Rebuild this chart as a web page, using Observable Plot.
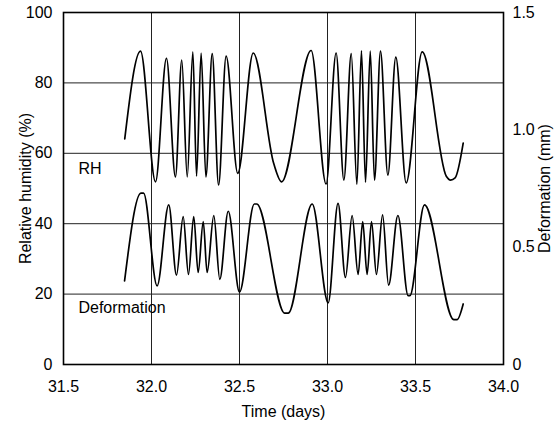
<!DOCTYPE html>
<html><head><meta charset="utf-8">
<script src="https://cdn.jsdelivr.net/npm/d3@7"></script>
<script src="https://cdn.jsdelivr.net/npm/@observablehq/plot@0.6"></script>
<style>body{margin:0;background:#fff}</style>
</head><body><div id="chart"></div>
<script>
// Relative humidity (%) (extrema and a few shape points)
const rhTime = [31.848, 31.9375, 32.023, 32.085, 32.136, 32.172, 32.203, 32.235, 32.256, 32.282, 32.309, 32.345, 32.381, 32.424, 32.49, 32.578, 32.695, 32.739, 32.907, 32.992, 33.049, 33.093, 33.135, 33.167, 33.193, 33.216, 33.243, 33.267, 33.301, 33.343, 33.388, 33.447, 33.538, 33.675, 33.699, 33.725, 33.771];
const rhValue = [64.1, 89.0, 51.9, 87.0, 53.3, 86.5, 53.3, 88.8, 53.5, 88.5, 53.3, 88.3, 51.0, 87.6, 54.3, 88.5, 57.0, 51.9, 89.2, 51.3, 88.5, 52.4, 88.3, 51.2, 89.1, 51.8, 89.0, 52.4, 89.0, 53.8, 87.3, 51.6, 88.8, 53.5, 52.4, 53.0, 62.9];
// Deformation (mm)
const defTime = [31.847, 31.94, 31.955, 32.032, 32.098, 32.142, 32.18, 32.21, 32.24, 32.265, 32.294, 32.316, 32.354, 32.388, 32.436, 32.5, 32.584, 32.598, 32.757, 32.777, 32.913, 33.004, 33.06, 33.102, 33.14, 33.174, 33.2, 33.225, 33.25, 33.278, 33.313, 33.347, 33.4, 33.458, 33.468, 33.551, 33.718, 33.736, 33.771];
const defValue = [0.356, 0.730, 0.730, 0.335, 0.680, 0.381, 0.630, 0.384, 0.630, 0.392, 0.609, 0.392, 0.635, 0.363, 0.653, 0.308, 0.684, 0.684, 0.219, 0.219, 0.684, 0.263, 0.687, 0.371, 0.635, 0.384, 0.609, 0.384, 0.609, 0.384, 0.638, 0.338, 0.635, 0.293, 0.293, 0.680, 0.191, 0.191, 0.258];

const xTicks = [31.5, 32.0, 32.5, 33.0, 33.5, 34.0];
const yTicks = [0, 20, 40, 60, 80, 100];
const rightTicks = [0, 0.5, 1.0, 1.5];
const rightTickLabels = ["0", "0.5", "1.0", "1.5"];
const gridX = [32.0, 32.5, 33.0, 33.5];
const gridY = [20, 40, 60, 80];
const seriesLabels = ["RH", "Deformation"];
const labelTime = [31.585, 31.585];
const labelValue = [55.7, 16.2];

const mmMax = 1.5;
const toLeft = mm => mm * 100 / mmMax;

const rh = rhTime.map((t, i) => ({t, v: rhValue[i]}));
const def = defTime.map((t, i) => ({t, v: toLeft(defValue[i])}));
const labels = seriesLabels.map((text, i) => ({text, t: labelTime[i], v: labelValue[i]}));
const rightPos = rightTicks.map(toLeft);

const chart = Plot.plot({
  width: 558, height: 424,
  marginLeft: 63, marginRight: 55, marginTop: 12, marginBottom: 60,
  style: {fontFamily: "'Liberation Sans', Arial, Helvetica, sans-serif", fontSize: "16px", color: "#000", background: "#fff"},
  x: {domain: [31.5, 34]},
  y: {domain: [0, 100]},
  marks: [
    Plot.ruleX(gridX, {stroke: "#222", strokeWidth: 1}),
    Plot.ruleY(gridY, {stroke: "#222", strokeWidth: 1}),
    Plot.frame({stroke: "#000", strokeWidth: 1.6}),
    Plot.line(rh, {x: "t", y: "v", curve: "monotone-x", stroke: "#000", strokeWidth: 1.7}),
    Plot.line(def, {x: "t", y: "v", curve: "monotone-x", stroke: "#000", strokeWidth: 1.7}),
    Plot.axisX({ticks: xTicks, tickFormat: d3.format(".1f"), tickSize: 0, tickPadding: 16,
      label: "Time (days)", labelAnchor: "center", labelOffset: 52, labelArrow: "none"}),
    Plot.axisY({ticks: yTicks, tickSize: 0, tickPadding: 11,
      label: "Relative humidity (%)", labelAnchor: "center", labelOffset: 44, labelArrow: "none"}),
    Plot.axisY({anchor: "right", ticks: rightPos, tickFormat: (d) => rightTickLabels[rightPos.indexOf(d)],
      tickSize: 0, tickPadding: 9,
      label: "Deformation (mm)", labelAnchor: "center", labelOffset: 46, labelArrow: "none"}),
    Plot.text(labels, {x: "t", y: "v", text: "text", textAnchor: "start", fontSize: 16})
  ]
});
document.getElementById("chart").append(chart);
</script>
</body></html>
